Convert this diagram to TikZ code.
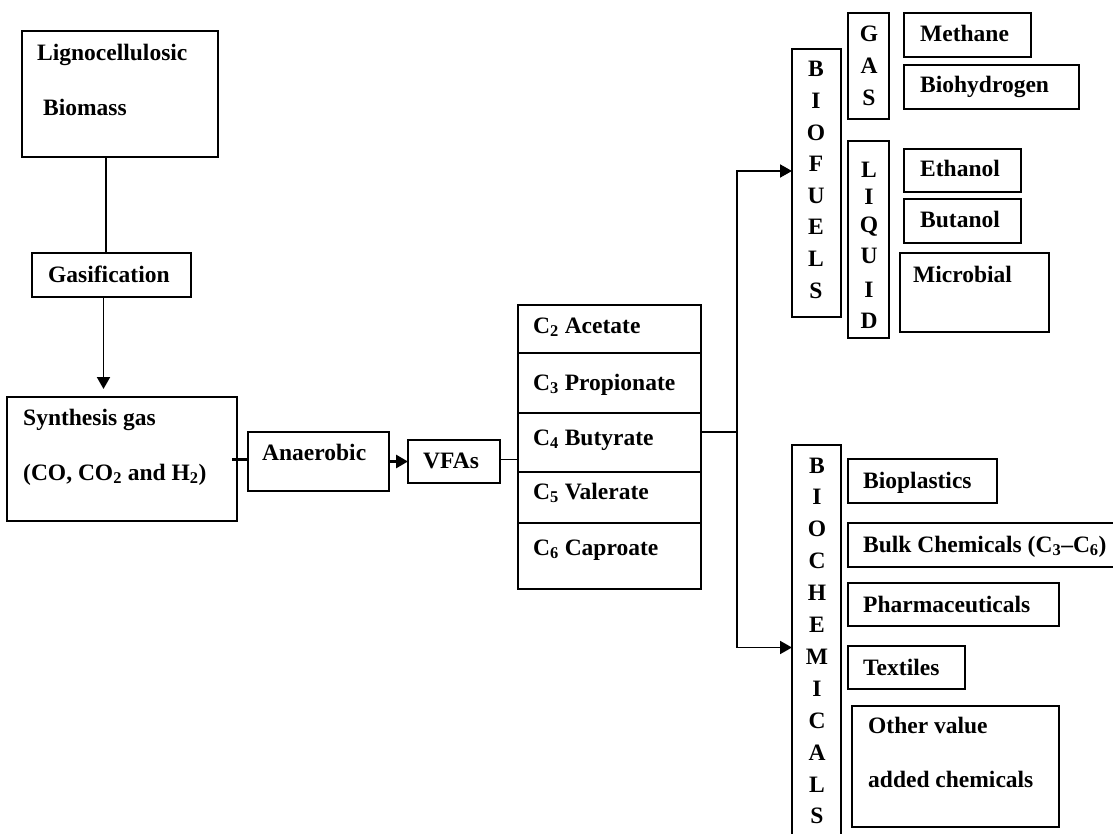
\documentclass[tikz,border=0pt]{standalone}
\usepackage{fontspec}
\setmainfont{Liberation Serif}
\usetikzlibrary{arrows.meta,calc}
\tikzset{
  box/.style={draw, line width=1.8pt, inner sep=0pt, outer sep=0pt, anchor=north west},
  txt/.style={anchor=base west, inner sep=0pt, font=\fontsize{23.5}{28}\selectfont\bfseries},
  letter/.style={anchor=base, inner sep=0pt, font=\fontsize{23.5}{28}\selectfont\bfseries},
  conn/.style={line width=1.9pt},
  arr/.style={line width=1.9pt, -{Triangle[length=12pt,width=13pt]}},
}
\newcommand\mkbox[5]{\node[box, minimum width={(#4-#2)*1pt}, minimum height={(#5-#3)*1pt}] (#1) at (#2,#3) {};}
\newcommand\mytxt[4]{\node[txt] (#1) at (#2,#3) {#4};}
\begin{document}
\begin{tikzpicture}[x=1pt,y=-1pt]
\clip (0,0) rectangle (1113,834);
\fill[white] (0,0) rectangle (1113,834);
% left chain
\mkbox{ligno}{22}{31}{218}{157}
\mytxt{lignoA}{37}{61}{Lignocellulosic}
\mytxt{lignoB}{43}{116}{Biomass}
\mkbox{gasif}{32}{253}{191}{297}
\mytxt{gasifT}{48}{282}{Gasification}
\mkbox{synth}{7}{397}{237}{521}
\mytxt{synthA}{23}{425}{Synthesis gas}
\mytxt{synthB}{23}{480}{(CO, CO\textsubscript{2} and H\textsubscript{2})}
\mkbox{anaer}{248}{432}{389}{491}
\mytxt{anaerT}{262}{460}{Anaerobic}
\mkbox{vfa}{408}{440}{500}{483}
\mytxt{vfaT}{423}{468}{VFAs}
% acids column
\mkbox{c2}{518}{305}{701}{353}
\mkbox{c3}{518}{353}{701}{413}
\mkbox{c4}{518}{413}{701}{472}
\mkbox{c5}{518}{472}{701}{523}
\mkbox{c6}{518}{523}{701}{589}
\mytxt{c2T}{533}{333}{C\textsubscript{2} Acetate}
\mytxt{c3T}{533}{390}{C\textsubscript{3} Propionate}
\mytxt{c4T}{533}{445}{C\textsubscript{4} Butyrate}
\mytxt{c5T}{533}{499}{C\textsubscript{5} Valerate}
\mytxt{c6T}{533}{555}{C\textsubscript{6} Caproate}
% biofuels
\mkbox{biof}{792}{49}{841}{317}
\foreach \l [count=\i] in {B,I,O,F,U,E,L,S}
  \node[letter] (bf\i) at (816,{77+31.6*(\i-1)}) {\l};
\mkbox{gas}{848}{13}{889}{119}
\foreach \l/\y [count=\i] in {G/42,A/74,S/106}
  \node[letter] (gs\i) at (869,\y) {\l};
\mkbox{liq}{848}{141}{889}{338}
\foreach \l/\y [count=\i] in {L/178,I/205,Q/233,U/264,I/298,D/328}
  \node[letter] (lq\i) at (869,\y) {\l};
\mkbox{meth}{904}{13}{1031}{57}
\mytxt{methT}{920}{42}{Methane}
\mkbox{bioh}{904}{65}{1079}{109}
\mytxt{biohT}{920}{93}{Biohydrogen}
\mkbox{eth}{904}{149}{1021}{192}
\mytxt{ethT}{920}{177}{Ethanol}
\mkbox{but}{904}{199}{1021}{243}
\mytxt{butT}{920}{228}{Butanol}
\mkbox{micro}{900}{253}{1049}{332}
\mytxt{microT}{913}{282}{Microbial}
% biochemicals
\mkbox{bioc}{792}{445}{841}{860}
\foreach \l [count=\i] in {B,I,O,C,H,E,M,I,C,A,L,S}
  \node[letter] (bc\i) at (817,{473+31.9*(\i-1)}) {\l};
\mkbox{bplast}{848}{459}{997}{503}
\mytxt{bplastT}{863}{488}{Bioplastics}
\mkbox{bulk}{848}{523}{1130}{567}
\mytxt{bulkT}{863}{552}{Bulk Chemicals (C\textsubscript{3}--C\textsubscript{6})}
\mkbox{pharm}{848}{583}{1059}{626}
\mytxt{pharmT}{863}{612}{Pharmaceuticals}
\mkbox{texti}{848}{646}{965}{689}
\mytxt{textiT}{863}{675}{Textiles}
\mkbox{other}{852}{706}{1059}{827}
\mytxt{otherA}{868}{733}{Other value}
\mytxt{otherB}{868}{787}{added chemicals}
% connectors
\draw[conn] ([xshift=-14pt]ligno.south) -- ([xshift=-14pt]ligno.south |- gasif.north);
\draw[arr, shorten >=8pt] ([xshift=-8pt]gasif.south) -- ([xshift=-8pt]gasif.south |- synth.north);
\draw[line width=3pt] ([xshift=-5pt]synth.east) -- (synth.east -| anaer.west);
\draw[arr, line width=2.8pt] (anaer.east) -- (anaer.east -| vfa.west);
\draw[conn] ([yshift=2pt]vfa.east) -- ([yshift=2pt]vfa.east -| c4.west);
\coordinate (j) at ([xshift=36pt,yshift=10.5pt]c4.east);
\draw[conn] ([yshift=10.5pt]c4.east) -- (j);
\draw[arr] (j) |- ([yshift=12pt]biof.west);
\draw[arr] (j) |- ([yshift=5pt]bioc.west);
\end{tikzpicture}
\end{document}
